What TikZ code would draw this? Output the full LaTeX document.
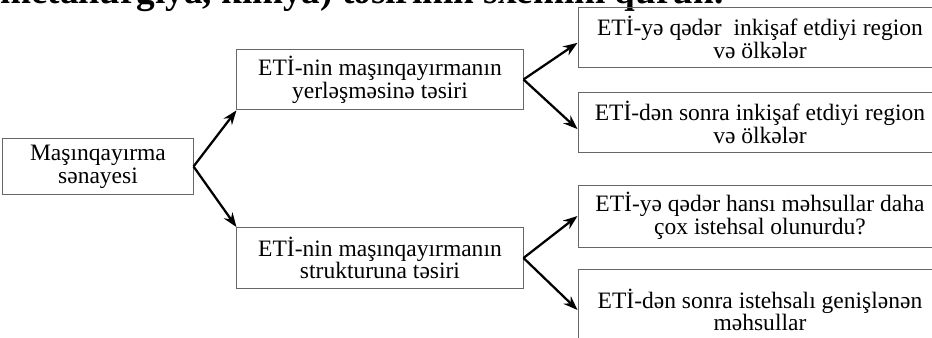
\documentclass[tikz,border=0pt]{standalone}
\usepackage{fontspec}
\setmainfont{Liberation Serif}
\usetikzlibrary{arrows.meta, positioning}

\begin{document}
\begin{tikzpicture}[
  rootbox/.style={rectangle, draw=black!60, line width=0.7pt,
    minimum width=5.03cm, minimum height=1.46cm, align=center, inner sep=0pt,
    font=\fontsize{17.7}{17.2}\selectfont},
  midbox/.style={rootbox, minimum width=7.57cm, minimum height=1.61cm},
  leafbox/.style={rootbox, minimum width=9.63cm, minimum height=1.61cm},
  heading/.style={font=\fontsize{28}{30}\selectfont\bfseries, inner sep=0pt},
  arr/.style={-{Stealth[length=3.8mm, width=2.8mm]}, line width=1.7pt, black}
]
\useasboundingbox (0,0) rectangle (24.66,-8.943);
% === Cut-off heading line at the top ===
\node[heading, anchor=base west] (head) at (0,-0.1) {metallurgiya, kimya) təsirinin sxemini qurun.};
% === Level 0: industry ===
\node[rootbox] (sen) at (2.593,-4.405) {Maşınqayırma\\sənayesi};
% === Level 1: location and structure ===
\node[midbox] (yer) at (10.054,-2.103) {ETİ-nin maşınqayırmanın\\yerləşməsinə təsiri};
\node[midbox] (str) at (10.054,-6.826) {ETİ-nin maşınqayırmanın\\strukturuna təsiri};
% === Level 2: regions ===
\node[leafbox] (reg1) at (20.108,-0.992) {ETİ-yə qədər\ \ inkişaf etdiyi region\\və ölkələr};
\node[leafbox] (reg2) at (20.108,-3.241) {ETİ-dən sonra inkişaf etdiyi region\\və ölkələr};
% === Level 2: products ===
\node[leafbox, minimum height=1.64cm] (mehs1) at (20.108,-5.715) {ETİ-yə qədər hansı məhsullar daha\\çox istehsal olunurdu?};
\node[leafbox, minimum height=2.17cm] (mehs2) at (20.108,-8.202) {ETİ-dən sonra istehsalı genişlənən\\məhsullar};
% === Arrows ===
\draw[arr] (sen.east) -- (yer.south west);
\draw[arr] (sen.east) -- (str.north west);
\draw[arr] (yer.east) -- ([yshift=-4pt]reg1.west);
\draw[arr] (yer.east) -- ([yshift=-5pt]reg2.west);
\draw[arr] (str.east) -- (mehs1.west);
\draw[arr] (str.east) -- (mehs2.west);
\end{tikzpicture}
\end{document}
